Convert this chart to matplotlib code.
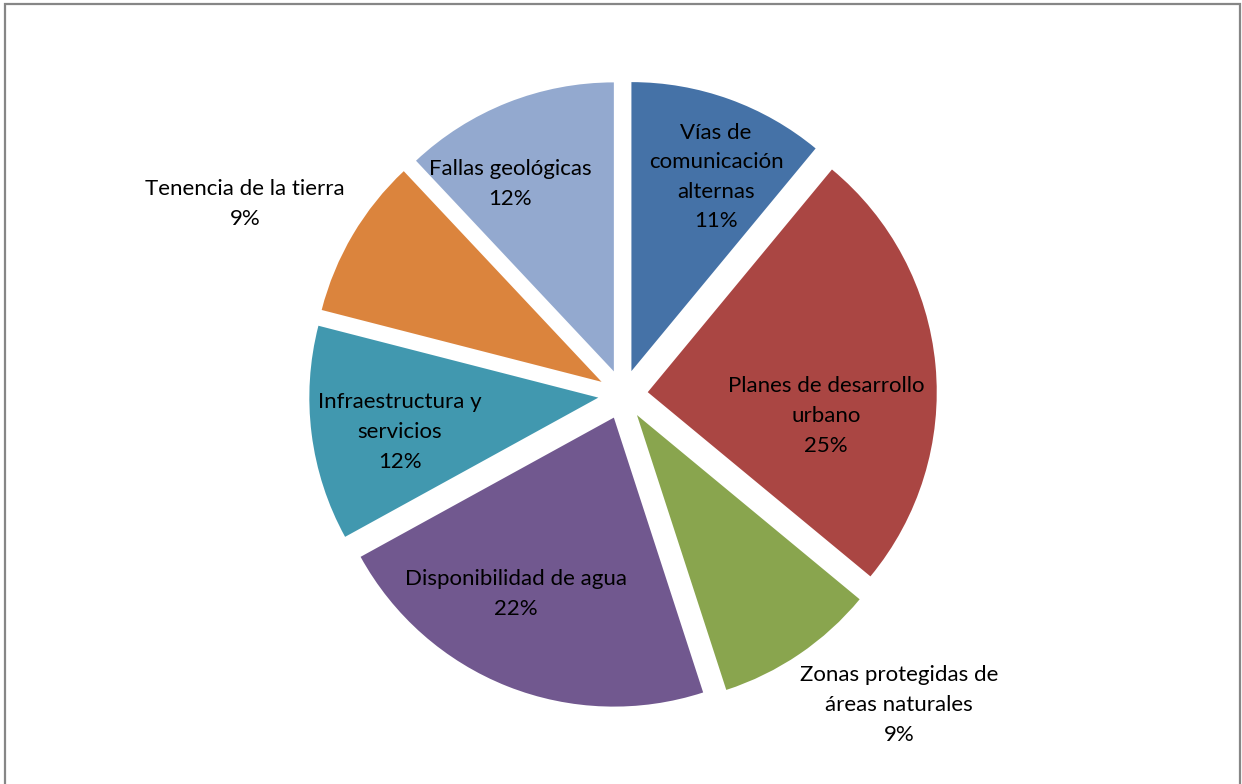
import matplotlib.pyplot as plt
from matplotlib.patches import Rectangle

categories = ["Vías de\ncomunicación\nalternas", "Planes de desarrollo\nurbano",
              "Zonas protegidas de\náreas naturales", "Disponibilidad de agua",
              "Infraestructura y\nservicios", "Tenencia de la tierra",
              "Fallas geológicas"]
values = [11, 25, 9, 22, 12, 9, 12]
colors = ["#4572A7", "#AA4643", "#89A54E", "#71588F", "#4198AF", "#DB843D", "#93A9CF"]

# label centres in pixels (x, y from top)
label_px = [(716, 177), (826, 416), (899, 705), (516, 594),
            (400, 432), (245, 204), (510, 184)]

W, H = 1242, 784
cx, cy, r = 623, 394.5, 289

fig = plt.figure(figsize=(W / 100, H / 100), dpi=100)
ax = fig.add_axes([0, 0, 1, 1])
ax.pie(values, colors=colors, startangle=90, counterclock=False,
       explode=[0.086] * len(values), radius=1,
       wedgeprops=dict(linewidth=0))
ax.set_aspect("auto")
ax.set_xlim(-cx / r, (W - cx) / r)
ax.set_ylim(-(H - cy) / r, cy / r)
ax.axis("off")

for cat, v, (px, py) in zip(categories, values, label_px):
    ax.text((px - cx) / r, (cy - py) / r, f"{cat}\n{v}%", ha="center", va="center",
            fontsize=16, family=["Lato", "DejaVu Sans"], linespacing=1.6, color="#000000")

fig.patches.append(Rectangle((5 / W, -0.01), (1240 - 5) / W, 1.01 - 4 / H,
                             transform=fig.transFigure, fill=False,
                             edgecolor="#868686", linewidth=1.6))

fig.savefig("out.png", dpi=100)
